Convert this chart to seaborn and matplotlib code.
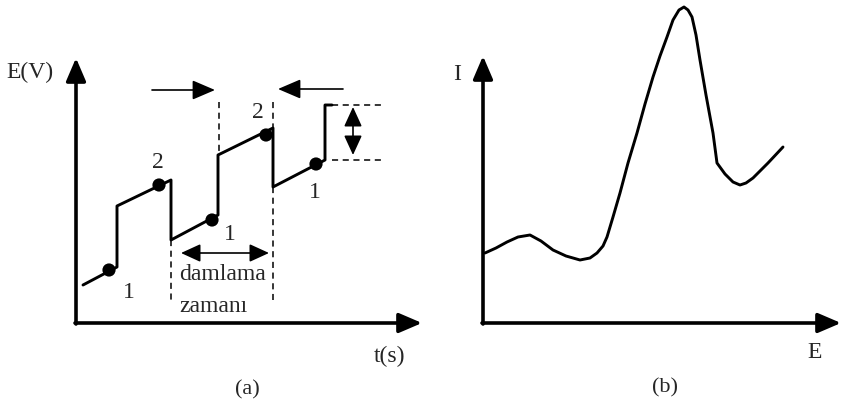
import numpy as np
import pandas as pd
import matplotlib
matplotlib.use("Agg")
import matplotlib.pyplot as plt
import seaborn as sns

sns.set_style("white")
plt.rcParams['font.family'] = ['Liberation Serif', 'DejaVu Serif']

# Panel (a): staircase potential vs time (pixel-space drawing coordinates)
stair_t = [83, 117, 117, 171, 171, 218, 218, 273, 273, 325, 325, 332]
stair_E = [285, 267, 206, 180, 240, 215, 155, 128, 187, 160, 105, 105]
dot_t = [109, 159, 212, 266, 316]
dot_E = [270, 185, 220, 135, 164]
dot_labels = ["1", "2", "1", "2", "1"]
label_t = [129, 158, 230, 258, 315]
label_E = [293, 162, 234, 112, 192]

# Panel (b): current vs potential
curve_E = [485, 496, 507, 518, 530, 541, 553, 566, 580, 590, 597, 603, 607, 613,
           620, 628, 637, 645, 653, 660, 667, 673, 679, 684, 688, 692, 696, 700,
           706, 713, 717, 725, 733, 740, 746, 753, 768, 783]
curve_I = [253, 248, 242, 237, 235, 241, 250, 256, 260, 258, 253, 246, 237, 217,
           193, 163, 133, 104, 77, 56, 37, 20, 10, 7, 10, 17, 35, 60,
           95, 133, 163, 174, 182, 185, 183, 178, 163, 147]

fig = plt.figure(figsize=(8.41, 4.09), dpi=100)
ax = fig.add_axes([0, 0, 1, 1])
ax.set_xlim(0, 841)
ax.set_ylim(409, 0)
ax.axis("off")

axis_lw = 2.6
line_lw = 2.1
dash = (0, (4, 3))
head = dict(arrowstyle="-|>,head_length=1.4,head_width=0.6", color="black",
            lw=axis_lw, shrinkA=0, shrinkB=0)
small_head = dict(arrowstyle="-|>,head_length=1.4,head_width=0.6", color="black",
                  lw=1.2, shrinkA=0, shrinkB=0)
both_head = dict(arrowstyle="<|-|>,head_length=1.2,head_width=0.55", color="black",
                 lw=1.2, shrinkA=0, shrinkB=0)

# axes of panel (a)
ax.annotate("", xy=(76, 58), xytext=(76, 324), arrowprops=head)
ax.annotate("", xy=(422, 323), xytext=(75, 323), arrowprops=head)
ax.text(6, 72, "E(V)", fontsize=17, va="center", ha="left")
ax.text(390, 356, "t(s)", fontsize=17, va="center", ha="center")
ax.text(247, 390, "(a)", fontsize=16, va="center", ha="center")

# staircase
df_stair = pd.DataFrame({"t": stair_t, "E": stair_E})
sns.lineplot(data=df_stair, x="t", y="E", sort=False, color="black",
             lw=line_lw, ax=ax, estimator=None)
sns.scatterplot(x=dot_t, y=dot_E, color="black", s=90, edgecolor="none", ax=ax)
for t, e, lab in zip(label_t, label_E, dot_labels):
    ax.text(t, e, lab, fontsize=17, ha="center", va="center")

# dashed guides
ax.plot([219, 219], [102, 155], color="black", lw=1.1, ls=dash)
ax.plot([273, 273], [102, 128], color="black", lw=1.1, ls=dash)
ax.plot([273, 273], [187, 300], color="black", lw=1.1, ls=dash)
ax.plot([171, 171], [240, 300], color="black", lw=1.1, ls=dash)
ax.plot([332, 382], [105, 105], color="black", lw=1.1, ls=dash)
ax.plot([332, 382], [160, 160], color="black", lw=1.1, ls=dash)

# arrows in panel (a)
ax.annotate("", xy=(215, 90), xytext=(152, 90), arrowprops=small_head)
ax.annotate("", xy=(278, 89), xytext=(343, 89), arrowprops=small_head)
ax.annotate("", xy=(353, 107), xytext=(353, 155), arrowprops=both_head)
ax.annotate("", xy=(181, 253), xytext=(269, 253), arrowprops=both_head)
ax.text(179, 275, "damlama", fontsize=17, ha="left", va="center")
ax.text(179, 307, "zamanı", fontsize=17, ha="left", va="center")

# axes of panel (b)
ax.annotate("", xy=(483, 56), xytext=(483, 324), arrowprops=head)
ax.annotate("", xy=(841, 323), xytext=(482, 323), arrowprops=head)
ax.text(457, 75, "I", fontsize=17, ha="center", va="center")
ax.text(815, 353, "E", fontsize=17, ha="center", va="center")
ax.text(665, 388, "(b)", fontsize=16, ha="center", va="center")

df_curve = pd.DataFrame({"E": curve_E, "I": curve_I})
sns.lineplot(data=df_curve, x="E", y="I", sort=False, color="black",
             lw=line_lw, ax=ax, estimator=None)

ax.set_xlabel("")
ax.set_ylabel("")
fig.savefig("out.png", dpi=100)
